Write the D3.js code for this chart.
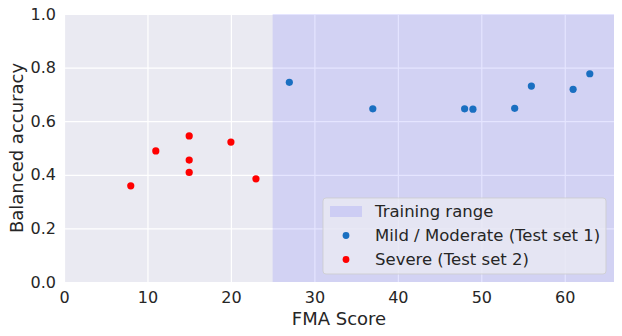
<!DOCTYPE html>
<html>
<head>
<meta charset="utf-8">
<script src="https://cdn.jsdelivr.net/npm/d3@7"></script>
<style>
  body { margin: 0; background: #fff; }
  svg text { font-family: "DejaVu Sans", sans-serif; fill: #262626; }
</style>
</head>
<body>
<div id="chart"></div>
<script>
// Mild / Moderate (Test set 1)
var mildX = [27, 37, 48, 49, 54, 56, 61, 63];
var mildY = [0.745, 0.646, 0.646, 0.645, 0.648, 0.731, 0.719, 0.777];
// Severe (Test set 2)
var severeX = [8, 11, 15, 15, 15, 20, 23];
var severeY = [0.359, 0.489, 0.545, 0.455, 0.409, 0.522, 0.385];
// training range on FMA score
var trainRange = [25, 70];
var xTicks = [0, 10, 20, 30, 40, 50, 60];
var yTicks = [0, 0.2, 0.4, 0.6, 0.8, 1.0];

function init(){
    var w = 622;
    var h = 336;
    var margin = {left: 64, right: 8, top: 14, bottom: 54};

    var xScale = d3.scaleLinear()
                    .domain([0, 65.9])
                    .range([margin.left, w - margin.right]);
    var yScale = d3.scaleLinear()
                    .domain([0, 1])
                    .range([h - margin.bottom, margin.top]);

    var svg = d3.select('#chart')
                .append('svg')
                .attr('width', w)
                .attr('height', h);

    // axes background
    svg.append('rect')
        .attr('x', margin.left)
        .attr('y', margin.top)
        .attr('width', w - margin.left - margin.right)
        .attr('height', h - margin.top - margin.bottom)
        .attr('fill', '#eaeaf2');

    svg.append('clipPath').attr('id', 'clip')
        .append('rect')
        .attr('x', margin.left)
        .attr('y', margin.top)
        .attr('width', w - margin.left - margin.right)
        .attr('height', h - margin.top - margin.bottom);

    // grid
    var xAxis = d3.axisBottom(xScale).tickValues(xTicks)
                    .tickSize(-(h - margin.top - margin.bottom))
                    .tickPadding(7)
                    .tickFormat(d3.format('d'));
    var yAxis = d3.axisLeft(yScale).tickValues(yTicks)
                    .tickSize(-(w - margin.left - margin.right))
                    .tickPadding(8)
                    .tickFormat(d3.format('.1f'));

    var gx = svg.append('g')
        .attr('transform', 'translate(0,' + (h - margin.bottom) + ')')
        .call(xAxis);
    var gy = svg.append('g')
        .attr('transform', 'translate(' + margin.left + ',0)')
        .call(yAxis);

    [gx, gy].forEach(function(g){
        g.select('.domain').remove();
        g.selectAll('line').attr('stroke', '#fff').attr('stroke-width', 1.2);
        g.selectAll('text').attr('font-size', '16px').attr('fill', '#262626');
    });
    gx.selectAll('text').attr('dy', '0.85em');

    // training range span
    svg.append('rect')
        .attr('clip-path', 'url(#clip)')
        .attr('x', xScale(trainRange[0]))
        .attr('y', margin.top)
        .attr('width', xScale(trainRange[1]) - xScale(trainRange[0]))
        .attr('height', h - margin.top - margin.bottom)
        .attr('fill', '#0000ff')
        .attr('fill-opacity', 0.1);

    // points
    var mild = mildX.map(function(d, i){ return [d, mildY[i]]; });
    var severe = severeX.map(function(d, i){ return [d, severeY[i]]; });

    svg.selectAll('circle.mild')
        .data(mild)
        .enter()
        .append('circle')
        .attr('class', 'mild')
        .attr('cx', function(d){ return xScale(d[0]); })
        .attr('cy', function(d){ return yScale(d[1]); })
        .attr('r', 3.6)
        .attr('fill', '#1a6fc1');

    svg.selectAll('circle.severe')
        .data(severe)
        .enter()
        .append('circle')
        .attr('class', 'severe')
        .attr('cx', function(d){ return xScale(d[0]); })
        .attr('cy', function(d){ return yScale(d[1]); })
        .attr('r', 3.6)
        .attr('fill', '#ff0000');

    // axis labels
    svg.append('text')
        .attr('x', (margin.left + w - margin.right) / 2)
        .attr('y', 325)
        .attr('text-anchor', 'middle')
        .attr('font-size', '18px')
        .text('FMA Score');

    svg.append('text')
        .attr('transform', 'translate(23,' + ((margin.top + h - margin.bottom) / 2) + ') rotate(-90)')
        .attr('text-anchor', 'middle')
        .attr('font-size', '18px')
        .text('Balanced accuracy');

    // legend
    var lx = 323, ly = 198;
    var legend = svg.append('g');
    legend.append('rect')
        .attr('x', lx)
        .attr('y', ly)
        .attr('width', 283)
        .attr('height', 76)
        .attr('rx', 3)
        .attr('fill', '#eaeaf2')
        .attr('fill-opacity', 0.8)
        .attr('stroke', '#cccccc')
        .attr('stroke-opacity', 0.8);

    legend.append('rect')
        .attr('x', lx + 7)
        .attr('y', ly + 8)
        .attr('width', 32)
        .attr('height', 11)
        .attr('fill', '#0000ff')
        .attr('fill-opacity', 0.1);

    var items = [
        {label: 'Training range'},
        {label: 'Mild / Moderate (Test set 1)', color: '#1a6fc1'},
        {label: 'Severe (Test set 2)', color: '#ff0000'}
    ];
    items.forEach(function(d, i){
        var yy = ly + 13.5 + i * 24;
        if (d.color) {
            legend.append('circle')
                .attr('cx', lx + 23)
                .attr('cy', yy)
                .attr('r', 3.4)
                .attr('fill', d.color);
        }
        legend.append('text')
            .attr('x', lx + 52)
            .attr('y', yy)
            .attr('dy', '0.35em')
            .attr('font-size', '16.5px')
            .text(d.label);
    });
}

window.onload = init;
</script>
</body>
</html>
